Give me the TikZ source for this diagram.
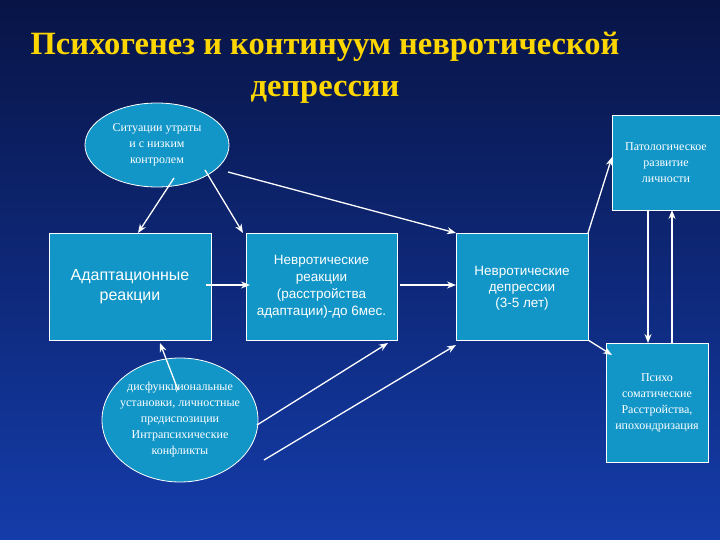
\documentclass[tikz,border=0pt]{standalone}
\usepackage{fontspec}
\setmainfont{Liberation Serif}
\newfontfamily\sansf{Liberation Sans}
\usetikzlibrary{shapes.geometric,arrows.meta}
\definecolor{bfill}{RGB}{18,150,200}
\definecolor{bgtop}{RGB}{8,20,70}
\definecolor{bgbot}{RGB}{20,60,170}
\definecolor{ttl}{RGB}{255,215,0}
\begin{document}
\begin{tikzpicture}[x=1pt,y=-1pt,
  box/.style={draw=white,fill=bfill,line width=0.8pt,text=white,align=center,inner sep=1pt},
  ell/.style={ellipse,draw=white,fill=bfill,line width=0.8pt,text=white,align=center,inner sep=0pt},
  arr/.style={draw=white,line width=1.3pt,-{Stealth[length=9pt,width=7pt]}}]
\shade[top color=bgtop,bottom color=bgbot] (0,0) rectangle (720,540);
\useasboundingbox (0,0) rectangle (720,540);
\node[text=ttl,font=\bfseries\fontsize{32.5}{42}\selectfont,align=center] (title) at (325,68) {Психогенез и континуум невротической\\депрессии};
\node[ell,minimum width=144,minimum height=84,font=\fontsize{12}{16}\selectfont] (e1) at (157,145) {Ситуации утраты\\и с низким\\контролем};
\node[ell,minimum width=156,minimum height=124,inner xsep=-14pt,font=\fontsize{12}{16}\selectfont] (e2) at (180,420) {дисфункциональные\\установки, личностные\\предиспозиции\\Интрапсихические\\конфликты};
\node[box,minimum width=162,minimum height=107,font=\sansf\fontsize{16}{20}\selectfont] (ad) at (130,286.5) {Адаптационные\\реакции};
\node[box,minimum width=151,minimum height=107,font=\sansf\fontsize{13.5}{17}\selectfont] (nr) at (321.5,286.5) {Невротические\\реакции\\(расстройства\\адаптации)-до 6мес.};
\node[box,minimum width=132,minimum height=107,font=\sansf\fontsize{13.5}{16}\selectfont,anchor=north] (nd) at (522,233) {\\[-4pt]Невротические\\депрессии\\(3-5 лет)};
\node[box,minimum width=108,minimum height=95,font=\fontsize{12}{16}\selectfont] (pt) at (666,162.5) {Патологическое\\развитие\\личности};
\node[box,minimum width=102,minimum height=119,font=\fontsize{12}{16}\selectfont] (ps) at (657,402.5) {Психо\\соматические\\Расстройства,\\ипохондризация};
\draw[arr] (174,178) -- (138,233);
\draw[arr] (205,170) -- (243,233);
\draw[arr] (228,172) -- (456,233);
\draw[arr] (206,285) -- (250,285);
\draw[arr] (400,285) -- (456,285);
\draw[arr] (588,233) -- (612,157);
\draw[arr] (588,340) -- (612,355);
\draw[arr] (648,210) -- (648,343);
\draw[arr] (672,343) -- (672,210);
\draw[arr] (178,390) -- (160,343);
\draw[arr] (257,425) -- (388,343);
\draw[arr] (264,460) -- (456,345);
\end{tikzpicture}
\end{document}
